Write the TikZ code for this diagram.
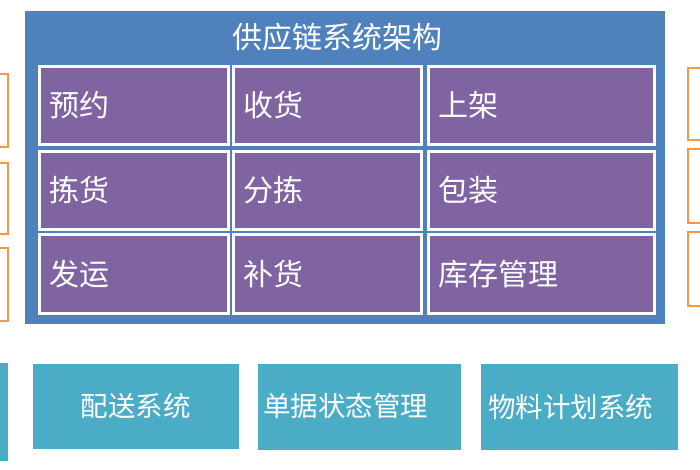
\documentclass[tikz,border=0pt]{standalone}
\usepackage{fontspec}
\newfontfamily\cjk{Noto Sans CJK SC}
\usetikzlibrary{shadows}
\definecolor{FrameClr}{HTML}{4F81BD}
\definecolor{CellClr}{HTML}{8064A2}
\definecolor{BaseClr}{HTML}{4BACC6}
\definecolor{SideClr}{HTML}{F79646}

\tikzset{
  boxshadow/.style={drop shadow={shadow xshift=1.5pt,shadow yshift=-1.5pt,opacity=.3,fill=black!60}},
  framebox/.style={rectangle,fill=FrameClr,draw=white,line width=2.5pt,boxshadow,inner sep=0pt},
  cellbox/.style={rectangle,fill=CellClr,draw=white,line width=3pt,text=white,
    minimum height=78pt,inner xsep=10pt,inner ysep=0pt,align=left,
    font=\fontsize{30}{34}\selectfont\cjk,boxshadow},
  basebox/.style={rectangle,fill=BaseClr,draw=white,line width=2.5pt,text=white,
    inner sep=0pt,font=\fontsize{27.5}{32}\selectfont\cjk,boxshadow},
  sidebox/.style={rectangle,fill=white,draw=SideClr,line width=1.5pt,inner sep=0pt}
}

\begin{document}
\begin{tikzpicture}[x=1pt,y=-1pt]
\useasboundingbox[fill=white] (0,0) rectangle (700,470);

% side boxes, cut off by the page
\node[sidebox,minimum width=18pt,minimum height=73pt] (SideL1) at (-1,110.5) {};
\node[sidebox,minimum width=18pt,minimum height=71pt] (SideL2) at (-1,198.5) {};
\node[sidebox,minimum width=18pt,minimum height=73pt] (SideL3) at (-1,284.5) {};
\node[sidebox,minimum width=22pt,minimum height=72pt] (SideR1) at (699,104) {};
\node[sidebox,minimum width=22pt,minimum height=74pt] (SideR2) at (699,186) {};
\node[sidebox,minimum width=22pt,minimum height=74pt] (SideR3) at (699,269) {};

% frame
\node[framebox,minimum width=643pt,minimum height=316pt] (Frame) at (345,167.5) {};
\node[text=white,font=\fontsize{30}{34}\selectfont\cjk] (Title) at (337,37) {供应链系统架构};

% cells
\node[cellbox,text width=169pt] (Yuyue) at (134,105.5) {预约};
\node[cellbox,text width=168pt] (Shouhuo) at (327.5,105.5) {收货};
\node[cellbox,text width=206pt] (Shangjia) at (541.5,105.5) {上架};

\node[cellbox,text width=169pt] (Jianhuo) at (134,190.5) {拣货};
\node[cellbox,text width=168pt] (Fenjian) at (327.5,190.5) {分拣};
\node[cellbox,text width=206pt] (Baozhuang) at (541.5,190.5) {包装};

\node[cellbox,text width=169pt,minimum height=79pt] (Fayun) at (134,274) {发运};
\node[cellbox,text width=168pt,minimum height=79pt] (Buhuo) at (327.5,274) {补货};
\node[cellbox,text width=206pt,minimum height=79pt] (Kucun) at (541.5,274) {库存管理};

% base row
\node[basebox,minimum width=27.5pt,minimum height=100.5pt] (BaseA) at (-5,411.5) {};
\node[basebox,minimum width=208.5pt,minimum height=87.5pt] (Peisong) at (135.5,406) {配送系统};
\node[basebox,minimum height=88.5pt,inner xsep=7pt,text width=191.5pt,align=left] (Danju) at (359,406.5) {单据状态管理};
\node[basebox,minimum height=88.5pt,inner xsep=9pt,text width=181.5pt,align=left] (Wuliao) at (579,406.5) {物料计划系统};
\node[basebox,minimum width=20pt,minimum height=95.5pt] (BaseE) at (710,409) {};

\end{tikzpicture}
\end{document}
